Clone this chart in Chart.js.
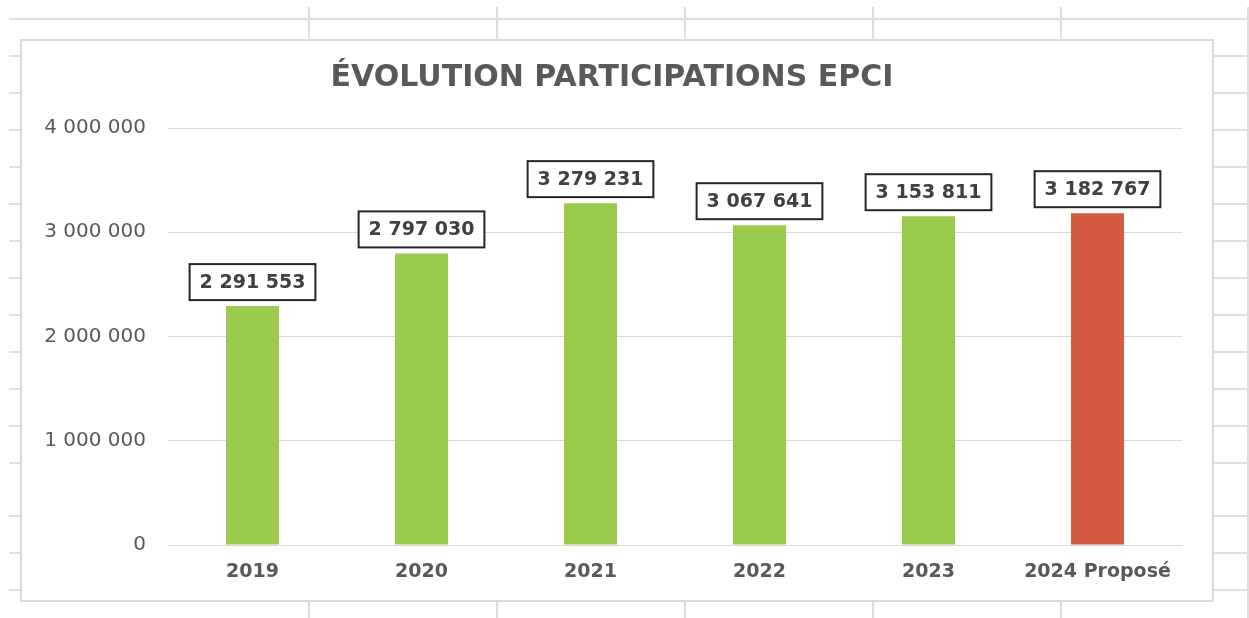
<!DOCTYPE html>
<html lang="fr">
<head>
<meta charset="utf-8">
<title>Évolution participations EPCI</title>
<script src="https://cdn.jsdelivr.net/npm/chart.js@4.4.1/dist/chart.umd.min.js"></script>
<style>
  html, body { margin: 0; padding: 0; background: #fff; }
  #page { position: relative; width: 1249px; height: 618px; overflow: hidden; }
  .gl { position: absolute; background: #dedede; }
  #box {
    position: absolute; left: 20px; top: 39px; width: 1194px; height: 563px;
    box-sizing: border-box; border: 2px solid #d9d9d9; background: #fff;
  }
  #chart { position: absolute; left: 0; top: 0; }
</style>
</head>
<body>
<div id="page">
  <div id="box"></div>
  <canvas id="chart" width="1249" height="618"></canvas>
</div>
<script>
// data
const years = ['2019', '2020', '2021', '2022', '2023', '2024 Proposé'];
const participations = [2291553, 2797030, 3279231, 3067641, 3153811, 3182767];
const yTickValues = [0, 1000000, 2000000, 3000000, 4000000];
const yTickLabels = ['0', '1 000 000', '2 000 000', '3 000 000', '4 000 000'];

const green = '#9BCB4C';
const red = '#D35B41';
const grey = '#595959';

// spreadsheet cells behind the chart
const sheetRows = [56, 93, 130, 167, 204, 241, 278, 315, 352, 389, 426, 463, 516, 553, 590];
const sheetCols = [309, 497, 685, 873, 1061];

function line(x, y, w, h) {
    const d = document.createElement('div');
    d.className = 'gl';
    d.style.left = x + 'px';
    d.style.top = y + 'px';
    d.style.width = w + 'px';
    d.style.height = h + 'px';
    document.getElementById('page').insertBefore(d, document.getElementById('box'));
}
line(9, 18, 1240, 2);
line(1247, 7, 2, 611);
sheetRows.forEach(y => {
    line(9, y - 1, 12, 2);
    line(1213, y - 1, 36, 2);
});
sheetCols.forEach(x => {
    line(x - 1, 7, 2, 33);
    line(x - 1, 601, 2, 17);
});

function formatNumber(v) {
    return String(v).replace(/\B(?=(\d{3})+(?!\d))/g, ' ');
}

// boxed value labels above bars
const boxedLabels = {
    id: 'boxedLabels',
    afterDatasetsDraw(chart) {
        const ctx = chart.ctx;
        const meta = chart.getDatasetMeta(0);
        ctx.save();
        ctx.font = 'bold 19px "DejaVu Sans"';
        ctx.textAlign = 'center';
        ctx.textBaseline = 'middle';
        meta.data.forEach((bar, i) => {
            const text = formatNumber(participations[i]);
            const w = ctx.measureText(text).width + 20;
            const h = 36;
            const cx = bar.x;
            const bottom = bar.y - 6;
            ctx.fillStyle = '#fff';
            ctx.fillRect(cx - w / 2, bottom - h, w, h);
            ctx.lineWidth = 2;
            ctx.strokeStyle = '#262626';
            ctx.strokeRect(cx - w / 2, bottom - h, w, h);
            ctx.fillStyle = '#404040';
            ctx.fillText(text, cx, bottom - h / 2 + 1);
        });
        ctx.restore();
    }
};

const ctx = document.getElementById('chart').getContext('2d');
const chart = new Chart(ctx, {
    type: 'bar',
    data: {
        labels: years,
        datasets: [{
            label: 'Participations',
            data: participations,
            backgroundColor: years.map((y, i) => i === years.length - 1 ? red : green),
            borderWidth: 0,
            categoryPercentage: 1,
            barPercentage: 0.314
        }]
    },
    options: {
        responsive: false,
        animation: false,
        layout: {
            padding: { left: 42, right: 67, top: 40, bottom: 23 }
        },
        plugins: {
            legend: { display: false },
            tooltip: { enabled: false },
            title: {
                display: true,
                text: 'ÉVOLUTION PARTICIPATIONS EPCI',
                color: grey,
                font: { family: '"DejaVu Sans"', size: 30, weight: 'bold' },
                padding: { top: 20, bottom: 32 }
            }
        },
        scales: {
            x: {
                grid: { display: false, drawTicks: false },
                border: { display: true, color: '#d9d9d9', width: 1 },
                ticks: {
                    color: grey,
                    font: { family: '"DejaVu Sans"', size: 19, weight: 'bold' },
                    padding: 16,
                    maxRotation: 0
                },
                afterFit(scale) { scale.height = 50; }
            },
            y: {
                min: 0,
                max: 4000000,
                grid: { color: '#d9d9d9', lineWidth: 1, drawTicks: false },
                border: { display: false },
                afterBuildTicks(scale) {
                    scale.ticks = yTickValues.map(v => ({ value: v }));
                },
                ticks: {
                    color: grey,
                    font: { family: '"DejaVu Sans"', size: 20 },
                    padding: 22,
                    callback: function(value) {
                        const i = yTickValues.indexOf(value);
                        return i >= 0 ? yTickLabels[i] : '';
                    }
                },
                afterFit(scale) { scale.width = 126; }
            }
        }
    },
    plugins: [boxedLabels]
});
</script>
</body>
</html>
